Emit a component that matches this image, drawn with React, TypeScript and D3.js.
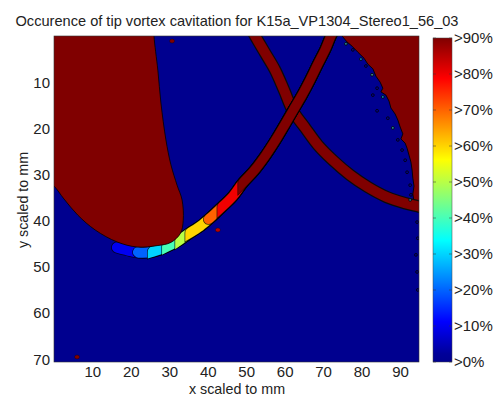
import React from 'react';
import * as d3 from 'd3';

const width = 497;
const height = 396;

const title = 'Occurence of tip vortex cavitation for K15a_VP1304_Stereo1_56_03';
const xLabel = 'x scaled to mm';
const yLabel = 'y scaled to mm';
const xTicks = [10, 20, 30, 40, 50, 60, 70, 80, 90];
const yTicks = [10, 20, 30, 40, 50, 60, 70];
const levels = [0, 10, 20, 30, 40, 50, 60, 70, 80, 90];
const levelLabels = ['>0%', '>10%', '>20%', '>30%', '>40%', '>50%', '>60%', '>70%', '>80%', '>90%'];

// blade tip region, always cavitating (x mm, y mm)
const bladeTip: [number, number][] = [
  [-2, -2], [25.9, -2], [25.9, 0], [26.9, 7.4], [27.7, 14.5], [29.0, 22.5],
  [30.3, 27.9], [31.9, 32.3], [33.2, 35.5], [33.5, 39.9], [32.8, 42.7],
  [30.3, 44.7], [26.7, 45.4], [21.5, 45.7], [16.3, 44.6], [10.6, 42.0],
  [6.1, 38.8], [2.5, 35.3], [-0.1, 32.5], [-2, 31.3]
];

// sheet on the right (x mm, y mm)
const rightSheet: [number, number][] = [
  [74.5, -1.3], [74.8, 0], [76.1, 1.3], [77.4, 2.2], [78.9, 3.5], [80.5, 4.8],
  [81.5, 6.1], [82.8, 7.1], [83.6, 8.7], [84.7, 10.0], [85.4, 11.3], [84.9, 12.1],
  [86.2, 12.8], [87.0, 14.1], [87.5, 15.6], [88.6, 16.9], [89.3, 18.2], [89.9, 19.7],
  [90.6, 21.2], [90.1, 22.3], [91.2, 23.2], [91.7, 24.3], [92.2, 25.8], [92.7, 27.3],
  [93.0, 29.0], [93.2, 30.8], [93.5, 32.5], [93.2, 34.2], [93.5, 36.0],
  [97.7, 36.8], [97.7, -1.7]
];

// second vortex (x mm, y mm)
const vortexB: [number, number][] = [
  [51.1, -1.7], [52.2, 0], [54.8, 3.7], [57.4, 7.4], [59.7, 11.7], [62.0, 16.2],
  [65.2, 19.9], [68.5, 23.6], [72.4, 26.9], [76.9, 30.1], [81.5, 32.7],
  [86.5, 34.9], [91.2, 36.2], [95.1, 37.0], [97.1, 37.5]
];

// main tip vortex (x mm, y mm, occurrence %)
const vortexA: [number, number, number][] = [
  [16.3, 45.8, 10], [19.1, 46.4, 15], [22.3, 46.9, 21], [25.6, 46.7, 30],
  [29.3, 45.6, 40], [32.7, 44.1, 50], [35.3, 42.6, 60], [37.9, 41.2, 65],
  [40.5, 39.4, 71], [43.6, 37.0, 80], [46.4, 34.7, 85], [49.0, 31.8, 90],
  [51.9, 29.2, 95], [54.8, 26.0, 100], [57.4, 22.7, 100], [59.7, 19.5, 100],
  [62.0, 16.2, 100], [64.4, 12.8, 100], [66.5, 9.5, 100], [68.5, 6.1, 100],
  [70.5, 2.8, 100], [71.9, 0, 100], [73.0, -1.7, 100]
];

// isolated spots (x mm, y mm, occurrence %)
const spots: [number, number, number][] = [
  [42.5, 42.0, 85], [30.6, 1.1, 95], [5.9, 69.5, 95]
];

// noise along the sheet edge (x mm, y mm, occurrence %)
const speckles: [number, number, number][] = [
  [75.8, 1.7, 40], [77.6, 3.0, 0], [79.7, 5.0, 35], [81.0, 6.5, 0], [82.6, 8.4, 45],
  [83.9, 11.3, 0], [82.8, 12.8, 0], [85.4, 13.2, 35], [83.9, 16.2, 0], [86.7, 17.8, 0],
  [88.0, 19.9, 40], [89.3, 22.5, 0], [90.4, 24.7, 0], [91.2, 26.9, 0], [91.7, 29.5, 0],
  [92.5, 32.3, 0], [92.7, 34.4, 0], [92.5, 35.5, 30],
  [94.3, 40.3, 0], [94.5, 43.8, 0], [94.0, 47.4, 0], [94.3, 51.1, 0], [94.5, 55.0, 0]
];

function jet(t: number) {
  const c = (v: number) => Math.max(0, Math.min(1, v));
  const r = c(1.5 - Math.abs(4 * t - 3));
  const g = c(1.5 - Math.abs(4 * t - 2));
  const b = c(1.5 - Math.abs(4 * t - 1));
  return d3.rgb(r * 255, g * 255, b * 255).formatHex();
}

// part of the vortex where occurrence >= level
function above(level: number): [number, number][] {
  const out: [number, number][] = [];
  for (let i = 0; i < vortexA.length; i++) {
    const [px, py, v] = vortexA[i];
    if (v < level) continue;
    if (out.length === 0 && i > 0) {
      const [qx, qy, qv] = vortexA[i - 1];
      const t = (level - qv) / (v - qv);
      out.push([qx + (px - qx) * t, qy + (py - qy) * t]);
    }
    out.push([px, py]);
  }
  return out;
}

export default function App() {
  const plot = { left: 54, top: 36, right: 419, bottom: 362 };
  const x = d3.scaleLinear().domain([-0.1, 94.8]).range([plot.left, plot.right]);
  const y = d3.scaleLinear().domain([0, 70.6]).range([plot.top, plot.bottom]);
  const cbar = d3.scaleLinear().domain([0, 90]).range([362, 38]);
  const cbX = 433, cbW = 19;
  const font = "'Liberation Sans', Arial, sans-serif";

  const area = d3.line<[number, number]>().x(d => x(d[0])).y(d => y(d[1])).curve(d3.curveCatmullRomClosed);
  const jagged = d3.line<[number, number]>().x(d => x(d[0])).y(d => y(d[1])).curve(d3.curveLinearClosed);
  const path = d3.line<[number, number]>().x(d => x(d[0])).y(d => y(d[1])).curve(d3.curveCatmullRom);
  const color = (v: number) => (v < 10 ? '#00008f' : jet(Math.min(v, 90) / 90));
  const gradStops = d3.range(0, 41).map(i => i / 40);

  return (
    <svg width={width} height={height} style={{ position: 'absolute', left: 0, top: 0, background: '#fff' }}>
      <defs>
        <clipPath id="plotClip">
          <rect x={plot.left} y={plot.top} width={plot.right - plot.left} height={plot.bottom - plot.top} />
        </clipPath>
        <linearGradient id="jetGrad" x1="0" y1="1" x2="0" y2="0">
          {gradStops.map(t => <stop key={t} offset={t} stopColor={t === 0 ? '#00008f' : jet(t)} />)}
        </linearGradient>
      </defs>

      <text x={237} y={26} textAnchor="middle" fontFamily={font} fontSize={14.6} fill="#222">{title}</text>

      <g clipPath="url(#plotClip)">
        <rect x={plot.left} y={plot.top} width={plot.right - plot.left} height={plot.bottom - plot.top} fill={color(0)} />
        <path d={jagged(rightSheet) || ''} fill={color(90)} stroke="#000" strokeWidth={0.9} strokeLinejoin="round" />
        <path d={path(vortexB) || ''} fill="none" stroke="#0a0a0a" strokeWidth={12.5} />
        <path d={path(vortexB) || ''} fill="none" stroke={color(90)} strokeWidth={10} />
        {levels.slice(1).map((L, i) => (
          <g key={L}>
            <path d={path(above(L)) || ''} fill="none" stroke="#000" strokeOpacity={0.75}
              strokeWidth={12 - i * 0.15} strokeLinecap="round" />
            <path d={path(above(L)) || ''} fill="none" stroke={color(L)}
              strokeWidth={10.5 - i * 0.15} strokeLinecap="round" />
          </g>
        ))}
        <path d={area(bladeTip) || ''} fill={color(90)} stroke="#000" strokeWidth={0.8} />
        {spots.map(([sx, sy, v], i) => (
          <ellipse key={i} cx={x(sx)} cy={y(sy)} rx={2.5} ry={2} fill={color(v)} stroke="#000" strokeOpacity={0.5} strokeWidth={0.6} />
        ))}
        {speckles.map(([sx, sy, v], i) => (
          <circle key={i} cx={x(sx)} cy={y(sy)} r={1.4} fill={color(v)} fillOpacity={0.55} stroke="#000" strokeWidth={0.8} />
        ))}
      </g>
      <rect x={plot.left} y={plot.top} width={plot.right - plot.left} height={plot.bottom - plot.top}
        fill="none" stroke="#333" strokeWidth={0.6} />

      {xTicks.map(t => (
        <text key={t} x={x(t)} y={377} textAnchor="middle" fontFamily={font} fontSize={15} fill="#222">{t}</text>
      ))}
      {yTicks.map(t => (
        <text key={t} x={50} y={y(t)} dy="0.36em" textAnchor="end" fontFamily={font} fontSize={15} fill="#222">{t}</text>
      ))}
      <text x={237} y={394} textAnchor="middle" fontFamily={font} fontSize={14.3} fill="#222">{xLabel}</text>
      <text transform="translate(28,200) rotate(-90)" textAnchor="middle" fontFamily={font} fontSize={14.3} fill="#222">{yLabel}</text>

      <rect x={cbX} y={cbar(90)} width={cbW} height={cbar(0) - cbar(90)} fill="url(#jetGrad)" stroke="#444" strokeWidth={0.5} />
      {levels.map(L => (
        <g key={L}>
          <line x1={cbX} x2={cbX + 3} y1={cbar(L)} y2={cbar(L)} stroke="#333" strokeOpacity={0.5} />
          <line x1={cbX + cbW - 3} x2={cbX + cbW} y1={cbar(L)} y2={cbar(L)} stroke="#333" strokeOpacity={0.5} />
        </g>
      ))}
      {levels.map((L, i) => (
        <text key={L} x={454} y={cbar(L)} dy="0.36em" fontFamily={font} fontSize={15} fill="#222">{levelLabels[i]}</text>
      ))}
    </svg>
  );
}
